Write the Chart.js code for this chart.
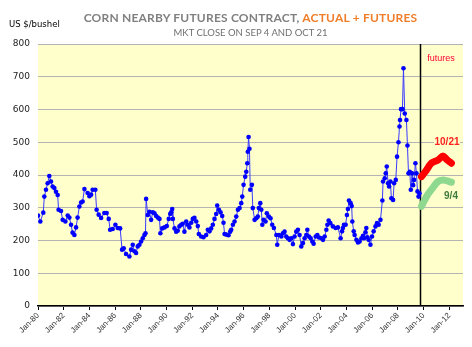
<!DOCTYPE html>
<html>
<head>
<meta charset="utf-8">
<script src="https://cdn.jsdelivr.net/npm/chart.js@4.4.1/dist/chart.umd.min.js"></script>
<style>
    body { margin: 0; background: #ffffff; }
    #wrap { position: relative; width: 472px; height: 347px; }
    #chart { position: absolute; left: 0; top: 0; }
    .title { position: absolute; left: 38px; width: 425px; text-align: center; font-family: Lato, sans-serif; white-space: nowrap; }
    #t1 { top: 10px; font-size: 12px; font-weight: bold; color: #808080; letter-spacing: 0.2px; }
    #t1 span { color: #f07d2a; }
    #t2 { top: 27px; font-size: 9.5px; color: #707070; }
    #unit { position: absolute; left: 9px; top: 19px; font-family: "DejaVu Sans", sans-serif; font-size: 8.5px; color: #000; }
</style>
</head>
<body>
<div id="wrap">
    <canvas id="chart" width="472" height="347"></canvas>
    <div class="title" id="t1">CORN NEARBY FUTURES CONTRACT, <span>ACTUAL + FUTURES</span></div>
    <div class="title" id="t2">MKT CLOSE ON SEP 4 AND OCT 21</div>
    <div id="unit">US $/bushel</div>
</div>
<script>
document.addEventListener('DOMContentLoaded', function() {

    // data (decimal years, cents per bushel)

    const actualYears = [
        1980.00, 1980.18, 1980.41, 1980.49, 1980.62, 1980.75, 1980.88, 1981.01, 1981.14, 1981.27,
        1981.40, 1981.53, 1981.60, 1981.79, 1981.92, 1982.13, 1982.31, 1982.44, 1982.57, 1982.69,
        1982.83, 1982.96, 1983.08, 1983.22, 1983.35, 1983.47, 1983.61, 1983.86, 1984.00, 1984.13,
        1984.25, 1984.46, 1984.56, 1984.72, 1984.91, 1985.16, 1985.34, 1985.50, 1985.61, 1985.81,
        1986.02, 1986.20, 1986.39, 1986.54, 1986.67, 1986.85, 1987.11, 1987.24, 1987.37, 1987.50,
        1987.63, 1987.76, 1987.89, 1988.02, 1988.15, 1988.28, 1988.36, 1988.41, 1988.54, 1988.67,
        1988.80, 1988.93, 1989.06, 1989.19, 1989.32, 1989.45, 1989.52, 1989.66, 1989.84, 1990.02,
        1990.17, 1990.28, 1990.36, 1990.44, 1990.49, 1990.62, 1990.75, 1990.87, 1991.00, 1991.14,
        1991.26, 1991.39, 1991.53, 1991.65, 1991.78, 1991.92, 1992.04, 1992.17, 1992.31, 1992.43,
        1992.51, 1992.69, 1992.87, 1993.08, 1993.21, 1993.34, 1993.47, 1993.60, 1993.73, 1993.86,
        1993.94, 1994.07, 1994.20, 1994.33, 1994.43, 1994.51, 1994.64, 1994.82, 1994.95, 1995.03,
        1995.16, 1995.29, 1995.42, 1995.55, 1995.68, 1995.81, 1995.89, 1995.99, 1996.12, 1996.20,
        1996.28, 1996.32, 1996.38, 1996.45, 1996.51, 1996.64, 1996.71, 1996.85, 1996.98, 1997.10,
        1997.18, 1997.29, 1997.37, 1997.45, 1997.55, 1997.70, 1997.80, 1997.96, 1998.09, 1998.22,
        1998.35, 1998.54, 1998.61, 1998.74, 1998.93, 1999.05, 1999.18, 1999.31, 1999.44, 1999.57,
        1999.70, 1999.83, 1999.96, 2000.09, 2000.22, 2000.35, 2000.48, 2000.61, 2000.74, 2000.87,
        2000.95, 2001.08, 2001.21, 2001.34, 2001.44, 2001.60, 2001.73, 2001.86, 2002.04, 2002.17,
        2002.30, 2002.43, 2002.51, 2002.61, 2002.74, 2002.94, 2003.15, 2003.33, 2003.54, 2003.65,
        2003.72, 2003.80, 2003.93, 2004.03, 2004.11, 2004.19, 2004.32, 2004.40, 2004.45, 2004.56,
        2004.63, 2004.77, 2004.89, 2005.02, 2005.16, 2005.28, 2005.36, 2005.47, 2005.54, 2005.62,
        2005.72, 2005.86, 2005.98, 2006.11, 2006.25, 2006.37, 2006.50, 2006.64, 2006.79, 2006.84,
        2006.97, 2007.05, 2007.13, 2007.23, 2007.31, 2007.41, 2007.49, 2007.62, 2007.70, 2007.83,
        2007.93, 2008.04, 2008.12, 2008.16, 2008.24, 2008.35, 2008.43, 2008.53, 2008.66, 2008.74,
        2008.82, 2008.92, 2009.00, 2009.10, 2009.18, 2009.25, 2009.36, 2009.44, 2009.52, 2009.60,
        2009.67
    ];
    const actualPrices = [
        276, 258, 285, 334, 355, 375, 397, 380, 365, 360,
        349, 339, 294, 290, 263, 258, 276, 270, 248, 224,
        217, 240, 270, 304, 316, 319, 357, 345, 335, 340,
        355, 355, 294, 279, 269, 284, 284, 266, 233, 235,
        248, 238, 237, 172, 176, 159, 151, 172, 187, 167,
        162, 182, 187, 197, 207, 217, 222, 327, 278, 288,
        263, 286, 283, 275, 270, 266, 222, 237, 240, 244,
        266, 281, 286, 296, 266, 237, 227, 230, 243, 248,
        251, 227, 258, 248, 240, 254, 266, 269, 258, 244,
        220, 212, 210, 217, 233, 228, 237, 248, 266, 281,
        307, 294, 286, 275, 254, 220, 218, 216, 227, 233,
        248, 258, 273, 294, 299, 314, 334, 370, 395, 410,
        436, 471, 516, 480, 355, 370, 299, 263, 268, 273,
        299, 314, 294, 248, 263, 258, 283, 273, 268, 248,
        238, 217, 187, 217, 212, 222, 227, 212, 207, 202,
        207, 189, 212, 227, 233, 217, 182, 192, 207, 217,
        233, 212, 207, 197, 190, 212, 217, 209, 207, 202,
        212, 233, 248, 261, 253, 243, 238, 240, 207, 228,
        238, 248, 248, 278, 296, 322, 314, 305, 258, 228,
        217, 202, 194, 197, 207, 214, 207, 225, 238, 210,
        202, 187, 212, 228, 243, 253, 248, 263, 322, 380,
        390, 405, 426, 375, 365, 380, 329, 324, 375, 385,
        456, 500, 548, 568, 601, 601, 726, 588, 568, 490,
        405, 410, 355, 405, 369, 385, 436, 405, 350, 334,
        344
    ];

    const futuresYears = [2009.83, 2010.22, 2010.60, 2011.12, 2011.51, 2011.82, 2012.16];
    const futuresOct21 = [395, 415, 436, 446, 458, 446, 436];
    const futuresSep4 = [304, 334, 355, 380, 385, 382, 378];

    const xTickYears = [1980, 1982, 1984, 1986, 1988, 1990, 1992, 1994, 1996, 1998, 2000, 2002, 2004, 2006, 2008, 2010, 2012];
    const yTicks = [0, 100, 200, 300, 400, 500, 600, 700, 800];
    const futuresStart = 2009.75;

    const toPoints = (xs, ys) => xs.map((x, i) => ({ x: x, y: ys[i] }));

    // plot area background, futures divider and labels
    const decorations = {
        id: 'decorations',
        beforeDraw(chart) {
            const { ctx, chartArea } = chart;
            ctx.save();
            ctx.fillStyle = '#ffffcc';
            ctx.fillRect(chartArea.left, chartArea.top, chartArea.right - chartArea.left, chartArea.bottom - chartArea.top);
            ctx.restore();
        },
        beforeDatasetsDraw(chart) {
            const { ctx, chartArea, scales } = chart;
            const x = Math.round(scales.x.getPixelForValue(futuresStart)) + 0.5;
            ctx.save();
            ctx.strokeStyle = '#000000';
            ctx.lineWidth = 1.5;
            ctx.beginPath();
            ctx.moveTo(x, chartArea.top);
            ctx.lineTo(x, chartArea.bottom);
            ctx.stroke();
            ctx.restore();
        },
        afterDatasetsDraw(chart) {
            const { ctx, scales } = chart;
            ctx.save();
            ctx.textAlign = 'center';
            ctx.textBaseline = 'middle';

            ctx.font = '9px "Liberation Sans", sans-serif';
            ctx.fillStyle = '#ff0033';
            ctx.fillText('futures', 441, scales.y.getPixelForValue(757));

            ctx.font = 'bold 10px "Liberation Sans", sans-serif';
            const y1 = scales.y.getPixelForValue(500);
            ctx.fillStyle = '#ffffcc';
            ctx.fillRect(434, y1 - 6, 26, 12);
            ctx.fillStyle = '#ff2020';
            ctx.fillText('10/21', 447, y1);

            ctx.fillStyle = '#3f7a3f';
            ctx.fillText('9/4', 451, scales.y.getPixelForValue(336));
            ctx.restore();
        }
    };

    const ctx = document.getElementById('chart');
    new Chart(ctx, {
        type: 'line',
        data: {
            datasets: [
                {
                    label: 'Actual',
                    data: toPoints(actualYears, actualPrices),
                    borderColor: '#3a3aff',
                    borderWidth: 1,
                    pointRadius: 2.3,
                    pointBackgroundColor: '#0000ff',
                    pointBorderWidth: 0,
                    tension: 0
                },
                {
                    label: 'Oct 21',
                    data: toPoints(futuresYears, futuresOct21),
                    borderColor: '#ff0000',
                    borderWidth: 7,
                    borderCapStyle: 'round',
                    borderJoinStyle: 'round',
                    pointRadius: 0,
                    tension: 0.3
                },
                {
                    label: 'Sep 4',
                    data: toPoints(futuresYears, futuresSep4),
                    borderColor: '#8fd88f',
                    borderWidth: 7,
                    borderCapStyle: 'round',
                    borderJoinStyle: 'round',
                    pointRadius: 0,
                    tension: 0.3
                }
            ]
        },
        options: {
            responsive: false,
            animation: false,
            layout: {
                padding: { top: 44, right: 9, left: 0, bottom: 0 }
            },
            plugins: {
                legend: { display: false },
                tooltip: { enabled: false }
            },
            scales: {
                x: {
                    type: 'linear',
                    min: 1980,
                    max: 2013.06,
                    afterFit: function(scale) { scale.height = 41; },
                    afterBuildTicks: function(scale) {
                        scale.ticks = xTickYears.map(v => ({ value: v }));
                    },
                    ticks: {
                        autoSkip: false,
                        maxRotation: 45,
                        minRotation: 45,
                        padding: 1,
                        color: '#333333',
                        font: { family: 'Liberation Sans', size: 8 },
                        callback: function(value) {
                            return 'Jan-' + String(value).slice(2);
                        }
                    },
                    grid: {
                        drawOnChartArea: false,
                        drawTicks: true,
                        tickLength: 4,
                        color: '#000000'
                    },
                    border: { color: '#000000', width: 1.5 }
                },
                y: {
                    min: 0,
                    max: 800,
                    afterFit: function(scale) { scale.width = 38; },
                    afterBuildTicks: function(scale) {
                        scale.ticks = yTicks.map(v => ({ value: v }));
                    },
                    ticks: {
                        padding: 8,
                        color: '#222222',
                        font: { family: 'DejaVu Sans', size: 9 }
                    },
                    grid: {
                        color: '#b4b4b4',
                        drawTicks: false
                    },
                    border: { display: false }
                }
            }
        },
        plugins: [decorations]
    });

});
</script>
</body>
</html>
